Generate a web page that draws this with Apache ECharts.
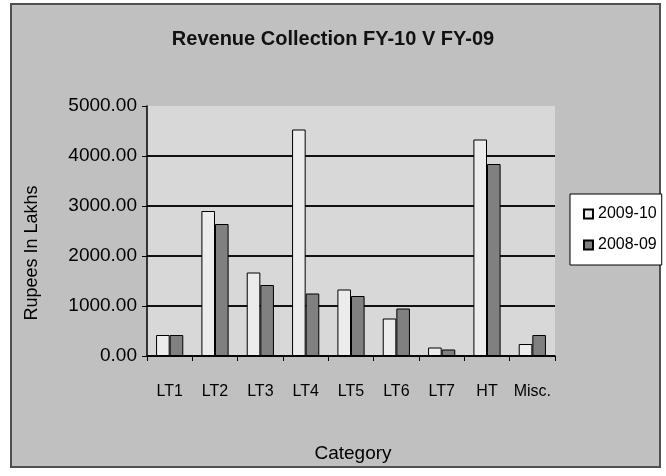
<!DOCTYPE html>
<html>
<head>
<meta charset="utf-8">
<script src="https://cdn.jsdelivr.net/npm/echarts@6/dist/echarts.min.js"></script>
<style>
html,body{margin:0;padding:0;background:#fff;}
#chart{width:666px;height:476px;}
</style>
</head>
<body>
<div id="chart"></div>
<script>
var categories = ['LT1','LT2','LT3','LT4','LT5','LT6','LT7','HT','Misc.'];
var fy2009_10 = [420, 2900, 1670, 4530, 1330, 750, 170, 4330, 240];
var fy2008_09 = [420, 2640, 1420, 1250, 1200, 950, 130, 3840, 420];
var seriesNames = ['2009-10', '2008-09'];
var yTicks = {min: 0, max: 5000, interval: 1000};

var chart = echarts.init(document.getElementById('chart'), null, {renderer: 'canvas'});
var font = 'Arial, "Liberation Sans", sans-serif';
chart.setOption({
  animation: false,
  backgroundColor: '#ffffff',
  graphic: [{
    type: 'rect', z: -10, silent: true,
    shape: {x: 11, y: 4, width: 649, height: 463},
    style: {fill: '#c0c0c0', stroke: '#505050', lineWidth: 2}
  }],
  title: {
    text: 'Revenue Collection FY-10 V FY-09',
    left: 'center', top: 24,
    textStyle: {fontFamily: font, fontSize: 20, fontWeight: 'bold', color: '#111'}
  },
  legend: {
    orient: 'vertical',
    left: 570, top: 194,
    backgroundColor: '#ffffff',
    borderColor: '#000', borderWidth: 1,
    padding: [12, 5, 12, 13],
    itemWidth: 9, itemHeight: 9, itemGap: 15,
    icon: 'rect',
    textStyle: {fontFamily: font, fontSize: 16, lineHeight: 16, color: '#000'},
    data: seriesNames
  },
  grid: {
    left: 147, top: 106, width: 408, height: 250,
    show: true, backgroundColor: '#d8d8d8', borderWidth: 0
  },
  xAxis: {
    type: 'category',
    data: categories,
    name: 'Category', nameLocation: 'middle', nameGap: 88,
    nameTextStyle: {fontFamily: font, fontSize: 19, color: '#000', padding: [0, 0, 0, 4]},
    axisLine: {lineStyle: {color: '#000', width: 1.5}},
    axisTick: {show: true, length: 5, lineStyle: {color: '#000'}},
    axisLabel: {fontFamily: font, fontSize: 16, color: '#000', margin: 28, interval: 0}
  },
  yAxis: {
    type: 'value',
    min: yTicks.min, max: yTicks.max, interval: yTicks.interval,
    name: 'Rupees In Lakhs', nameLocation: 'middle', nameGap: 106,
    nameTextStyle: {fontFamily: font, fontSize: 18, color: '#000', padding: [0, 44, 0, 0]},
    axisLine: {show: true, lineStyle: {color: '#000', width: 1.5}},
    axisTick: {show: true, length: 5, lineStyle: {color: '#000'}},
    axisLabel: {fontFamily: font, fontSize: 19, color: '#000', margin: 10,
      formatter: function (v) { return v.toFixed(2); }},
    splitLine: {show: true, showMaxLine: false, lineStyle: {color: '#111', width: 2}}
  },
  series: [{
    name: seriesNames[0], type: 'bar', data: fy2009_10,
    barGap: '0%', barCategoryGap: '40%',
    itemStyle: {color: '#ececec', borderColor: '#000', borderWidth: 1}
  }, {
    name: seriesNames[1], type: 'bar', data: fy2008_09,
    barGap: '0%', barCategoryGap: '40%',
    itemStyle: {color: '#808080', borderColor: '#000', borderWidth: 1}
  }]
});
</script>
</body>
</html>
